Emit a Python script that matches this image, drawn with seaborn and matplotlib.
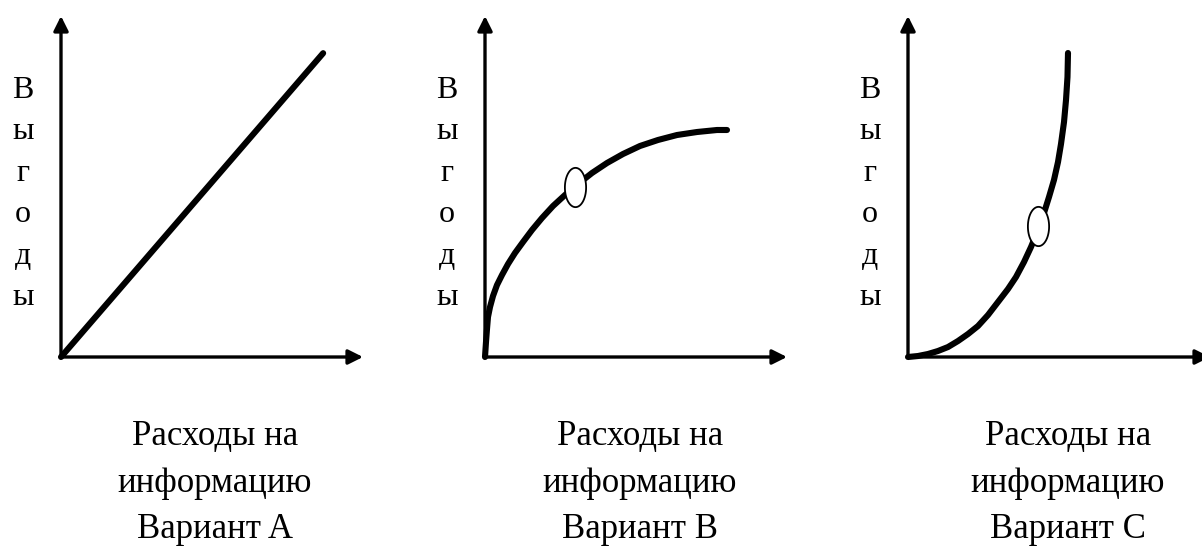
import numpy as np
import pandas as pd
import matplotlib
matplotlib.use('Agg')
import matplotlib.pyplot as plt
from matplotlib.path import Path
import seaborn as sns

# ===== style =====
sns.set_theme(style='white')
plt.rcParams['font.family'] = ['Liberation Serif', 'DejaVu Serif']

# ===== data (axis units 0..100) =====
costs_a = [0, 86.8]
benefit_a = [0, 89.1]

costs_b = [0, 0.33, 0.66, 0.99, 1.66, 2.65, 3.97, 5.63, 7.62, 9.93, 12.58, 15.56,
           18.87, 22.52, 26.49, 30.79, 35.43, 40.4, 45.7, 51.32, 57.28, 63.58,
           70.2, 76.82, 80.13]
benefit_b = [0, 4.4, 8.21, 11.73, 14.66, 17.89, 21.11, 24.05, 27.27, 30.5, 33.72,
             37.24, 40.76, 44.28, 47.51, 50.73, 53.96, 56.89, 59.53, 61.88, 63.64,
             65.1, 65.98, 66.57, 66.57]
point_b = (29.8, 49.9)

costs_c = [0, 3.31, 6.62, 9.93, 13.25, 16.56, 19.87, 23.18, 26.49, 29.8, 33.11,
           35.76, 38.41, 40.73, 43.05, 45.03, 46.69, 48.34, 49.67, 50.66, 51.66,
           52.32, 52.81, 52.98]
benefit_c = [0, 0.29, 0.88, 1.76, 2.93, 4.69, 6.74, 9.09, 12.32, 16.13, 19.94,
             23.46, 27.86, 32.26, 37.24, 42.23, 46.92, 51.91, 57.18, 62.46, 68.91,
             75.37, 82.11, 89.15]
point_c = (43.0, 38.5)

variants = ['A', 'B', 'C']
y_letters = list('Выгоды')
caption_lines = ['Расходы на', 'информацию']

W, H = 1202, 546
fig = plt.figure(figsize=(W / 100, H / 100), dpi=100)

# panel placement in pixels: origin x, letters x, caption centre x
origins_x = [61, 485, 908]
letters_x = [23, 447, 870]
captions_x = [215, 640, 1068]
origin_y = 357
ax_w, ax_h = 302, 341

curves = [(costs_a, benefit_a, None), (costs_b, benefit_b, point_b), (costs_c, benefit_c, point_c)]

# ellipse-shaped marker (taller than wide)
t = np.linspace(0, 2 * np.pi, 60)
ellipse = Path(np.column_stack([0.27 * np.cos(t), 0.5 * np.sin(t)]), closed=True)

for i, (xs, ys, pt) in enumerate(curves):
    ax = fig.add_axes([origins_x[i] / W, (H - origin_y) / H, ax_w / W, ax_h / H])
    ax.set_xlim(0, 100)
    ax.set_ylim(0, 100)
    ax.axis('off')

    # axes with arrows
    ax.annotate('', xy=(1, 0), xytext=(0, 0), xycoords='axes fraction',
                arrowprops=dict(arrowstyle='-|>', lw=2.4, color='black',
                                mutation_scale=22, shrinkA=0, shrinkB=0),
                annotation_clip=False)
    ax.annotate('', xy=(0, 1), xytext=(0, 0), xycoords='axes fraction',
                arrowprops=dict(arrowstyle='-|>', lw=2.4, color='black',
                                mutation_scale=22, shrinkA=0, shrinkB=0),
                annotation_clip=False)

    df = pd.DataFrame({'costs': xs, 'benefit': ys})
    sns.lineplot(data=df, x='costs', y='benefit', ax=ax, color='black',
                 linewidth=4.4, sort=False, solid_capstyle='round',
                 solid_joinstyle='round', clip_on=False)

    if pt is not None:
        ax.scatter([pt[0]], [pt[1]], marker=ellipse, s=800, facecolor='white',
                   edgecolor='black', linewidths=1.3, zorder=5, clip_on=False)

    # vertical label, one letter per line
    for k, ch in enumerate(y_letters):
        base = 98 + k * 41.4
        fig.text(letters_x[i] / W, 1 - base / H, ch, ha='center', va='baseline',
                 fontsize=23, color='black')

    # caption
    lines = caption_lines + [f'Вариант {variants[i]}']
    for k, line in enumerate(lines):
        base = [445, 492, 538][k]
        fig.text(captions_x[i] / W, 1 - base / H, line, ha='center', va='baseline',
                 fontsize=25, color='black')

plt.savefig('out.png', dpi=100, facecolor='white')
